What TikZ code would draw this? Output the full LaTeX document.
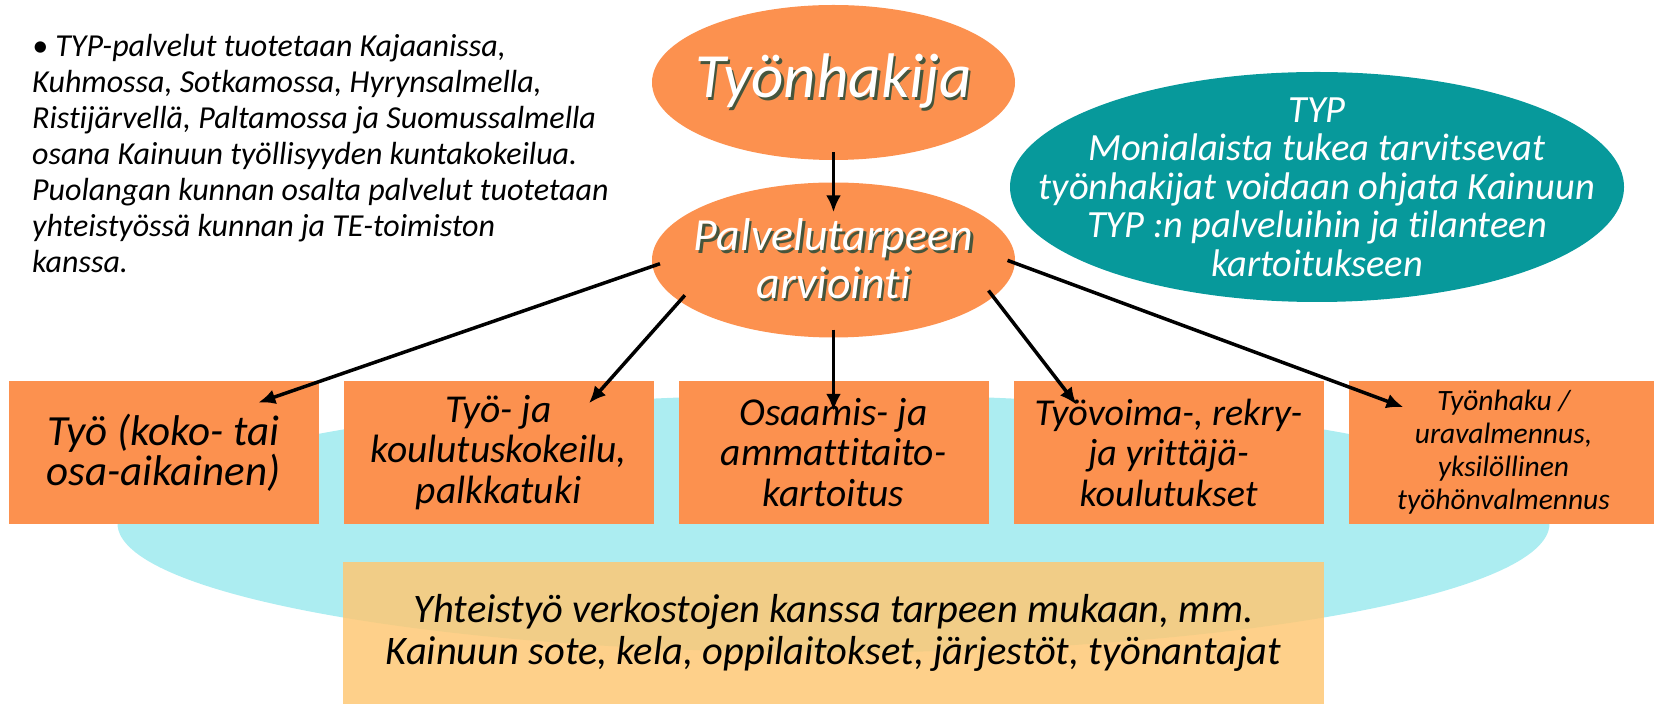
\documentclass[tikz,border=0pt]{standalone}
\usepackage{fontspec}
\setmainfont{Carlito}[Ligatures=NoCommon]
\usetikzlibrary{shapes.geometric,arrows.meta}

\definecolor{palvorange}{RGB}{252,145,79}
\definecolor{typteal}{RGB}{7,153,155}
\definecolor{verkkocyan}{RGB}{172,237,241}
\definecolor{verkkokeltainen}{RGB}{254,200,117}
\definecolor{varjo}{RGB}{70,85,60}

% valkoinen teksti varjolla
\newcommand{\varjoteksti}[1]{\makebox[0pt][l]{\hspace{2.5pt}\raisebox{-2.5pt}{\textcolor{varjo}{#1}}}#1}

\begin{document}
\begin{tikzpicture}[x=1pt, y=1pt,
    level 1/.style={level distance=177.5pt},
    level 2/.style={level distance=192.5pt, sibling distance=335pt},
    edge from parent/.style={draw, line width=3.5pt, -{Latex[length=17pt, width=15pt]}},
    kupla/.style={ellipse, fill=palvorange, text=white, minimum width=363pt, minimum height=155pt,
                  inner xsep=-60pt, inner ysep=-40pt, align=center},
    laatikko/.style={rectangle, fill=palvorange, minimum width=310pt, minimum height=143pt, inner sep=0pt, align=center}]

\useasboundingbox (0,0) rectangle (1654,704);

% tausta
\node[ellipse, fill=verkkocyan, minimum width=1432pt, minimum height=258pt, inner sep=0pt] (verkko) at (833.5,180.5) {};

\node[anchor=north west, align=left, inner sep=0pt, font=\itshape\fontsize{32}{36}\selectfont] (kunnat) at (32,670)
  {• TYP-palvelut tuotetaan Kajaanissa,\\
   Kuhmossa, Sotkamossa, Hyrynsalmella,\\
   Ristijärvellä, Paltamossa ja Suomussalmella\\
   osana Kainuun työllisyyden kuntakokeilua.\\
   Puolangan kunnan osalta palvelut tuotetaan\\
   yhteistyössä kunnan ja TE-toimiston\\
   kanssa.};

\node[ellipse, fill=typteal, text=white, minimum width=614pt, minimum height=230pt, inner xsep=-90pt, inner ysep=-60pt,
      align=center, font=\itshape\fontsize{38.5}{38.5}\selectfont] (typ) at (1317,517)
  {TYP\\ Monialaista tukea tarvitsevat\\ työnhakijat voidaan ohjata Kainuun\\ TYP :n palveluihin ja tilanteen\\ kartoitukseen};

\node[kupla, font=\itshape\fontsize{63}{66}\selectfont] (haku) at (833.5,621.5) {\varjoteksti{Työnhakija}}
  child[edge from parent/.append style={shorten <=-8pt, shorten >=-30pt}]
    {node[kupla, font=\itshape\fontsize{46}{48}\selectfont] (arvio)
      {\varjoteksti{Palvelutarpeen}\\ \varjoteksti{arviointi}}
    child[edge from parent path={(\tikzparentnode.182) -- ([xshift=-32pt, yshift=-12pt]\tikzchildnode.north east)}]
      {node[laatikko, font=\itshape\fontsize{43}{40}\selectfont] (tyo) {Työ (koko- tai\\ osa-aikainen)}}
    child[edge from parent path={(\tikzparentnode.195) -- (\tikzchildnode.33)}]
      {node[laatikko, font=\itshape\fontsize{39.5}{40.5}\selectfont] (kokeilu) {Työ- ja\\ koulutuskokeilu,\\ palkkatuki}}
    child[edge from parent path={(\tikzparentnode.south) -- (\tikzchildnode.north)}]
      {node[laatikko, font=\itshape\fontsize{39.5}{40.5}\selectfont] (kartoitus) {Osaamis- ja\\ ammattitaito-\\ kartoitus}}
    child[edge from parent path={(\tikzparentnode.347) -- (\tikzchildnode.147)}]
      {node[laatikko, font=\itshape\fontsize{38}{40.5}\selectfont] (koulutus) {Työvoima-, rekry-\\ ja yrittäjä-\\ koulutukset}}
    child[edge from parent path={(\tikzparentnode.359) -- ([xshift=27pt, yshift=-16pt]\tikzchildnode.north west)}]
      {node[laatikko, font=\itshape\fontsize{29.5}{33}\selectfont] (valmennus) {Työnhaku /\\ uravalmennus,\\ yksilöllinen\\ työhönvalmennus}}
  };

\node[rectangle, fill=verkkokeltainen, fill opacity=0.85, text opacity=1, minimum width=981pt, minimum height=142pt,
      inner sep=0pt, align=center, font=\itshape\fontsize{40.5}{42}\selectfont] (yhteistyo) at (833.5,71)
  {Yhteistyö verkostojen kanssa tarpeen mukaan, mm.\\ Kainuun sote, kela, oppilaitokset, järjestöt, työnantajat};

\end{tikzpicture}
\end{document}
